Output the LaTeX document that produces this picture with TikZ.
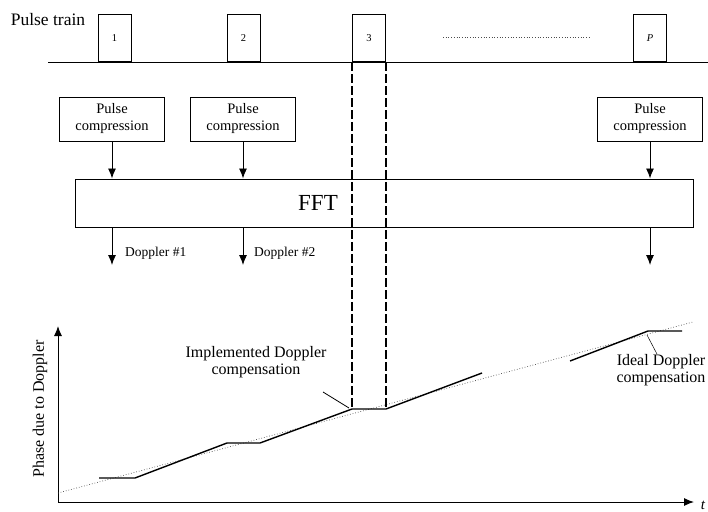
\documentclass[tikz,border=0pt]{standalone}
\usepackage{fontspec}
\setmainfont{Liberation Serif}
\usetikzlibrary{arrows.meta}
\tikzset{
  pulse/.style  = {shape=rectangle, draw, line width=1pt, anchor=south,
                   minimum width=33pt, minimum height=47pt, inner sep=0pt,
                   font=\fontsize{10.5}{12}\selectfont},
  pcbox/.style  = {shape=rectangle, draw, line width=1pt, align=center,
                   minimum width=105pt, minimum height=44pt, inner sep=0pt,
                   font=\fontsize{14.5}{17}\selectfont},
  fftbox/.style = {shape=rectangle, draw, line width=1pt,
                   minimum width=618pt, minimum height=48pt},
  arr/.style    = {draw, line width=0.9pt, -{Latex[length=10pt,width=8pt]}},
  gate/.style   = {draw, line width=1.1pt, dash pattern=on 9pt off 3pt},
  impl/.style   = {draw, line width=1.4pt},
  ideal/.style  = {draw, line width=0.7pt, dotted, black!70},
  lbl/.style    = {align=center, inner sep=0pt, font=\fontsize{16}{17}\selectfont},
  dlbl/.style   = {anchor=west, inner sep=0pt, font=\fontsize{13.5}{15}\selectfont}
}

\begin{document}
\begin{tikzpicture}[x=1pt, y=-1pt]
  \useasboundingbox (0,0) rectangle (708,511);

  % pulse train
  \node[lbl, font=\fontsize{17.5}{18}\selectfont] (train) at (48,20) {Pulse train};
  \coordinate (base0) at (48,62);
  \coordinate (base1) at (708,62);
  \draw[line width=1pt] (base0) -- (base1);
  \node[pulse] (pulse1) at (114.5,62) {1};
  \node[pulse] (pulse2) at (243.5,62) {2};
  \node[pulse] (pulse3) at (369,62) {3};
  \node[pulse] (pulseP) at (650,62) {\textit{P}};
  \coordinate (gap0) at (443,37);
  \coordinate (gap1) at (590,37);
  \draw[ideal] (gap0) -- (gap1);

  % pulse compression and FFT
  \node[pcbox] (pc1) at (112,119) {Pulse\\compression};
  \node[pcbox] (pc2) at (243,119) {Pulse\\compression};
  \node[pcbox] (pcP) at (650,119) {Pulse\\compression};
  \node[fftbox] (fft) at (384,203) {};
  \node[font=\fontsize{23}{24}\selectfont] (ffttxt) at (318,203) {FFT};
  \draw[arr] (pc1.south) -- (pc1.south |- fft.north);
  \draw[arr] (pc2.south) -- (pc2.south |- fft.north);
  \draw[arr] (pcP.south) -- (pcP.south |- fft.north);

  \coordinate (d1) at (112,265);
  \coordinate (d2) at (243,265);
  \coordinate (dP) at (650,265);
  \draw[arr] (d1 |- fft.south) -- (d1);
  \draw[arr] (d2 |- fft.south) -- (d2);
  \draw[arr] (dP |- fft.south) -- (dP);
  \node[dlbl] (dop1) at (125,253) {Doppler \#1};
  \node[dlbl] (dop2) at (254,253) {Doppler \#2};

  % phase plot
  \coordinate (org) at (58,502);
  \coordinate (ytip) at (58,326);
  \coordinate (xtip) at (694,502);
  \draw[arr, line width=1pt] (org) -- (ytip);
  \draw[arr, line width=1pt] (org) -- (xtip);
  \node[font=\fontsize{15}{16}\selectfont\itshape] (tlbl) at (703,505) {t};
  \node[lbl, rotate=90] (ylbl) at (40,409) {Phase due to Doppler};

  \coordinate (id0) at (58,493);
  \coordinate (id1) at (693,322);
  \draw[ideal] (id0) -- (id1);

  \coordinate (g3a) at (352,409);
  \coordinate (g3b) at (386,409);
  \draw[impl] (99,478) -- (135,478) -- (227,443) -- (260,443) -- (g3a) -- (g3b) -- (482,373);
  \draw[impl] (570,361) -- (648,331) -- (682,331);

  % gate of pulse 3
  \draw[gate] (pulse3.south west) -- (g3a);
  \draw[gate] (pulse3.south east) -- (g3b);

  % labels
  \node[lbl] (implbl) at (256,362) {Implemented Doppler\\compensation};
  \coordinate (implend) at (323,392);
  \draw[line width=0.8pt] (implend) -- (349,408);
  \node[lbl] (idlbl) at (661,370) {Ideal Doppler\\compensation};
  \coordinate (idpt) at (647,335);
  \draw[line width=0.5pt] (idpt) -- (idlbl.north -| 657,0);
\end{tikzpicture}
\end{document}
